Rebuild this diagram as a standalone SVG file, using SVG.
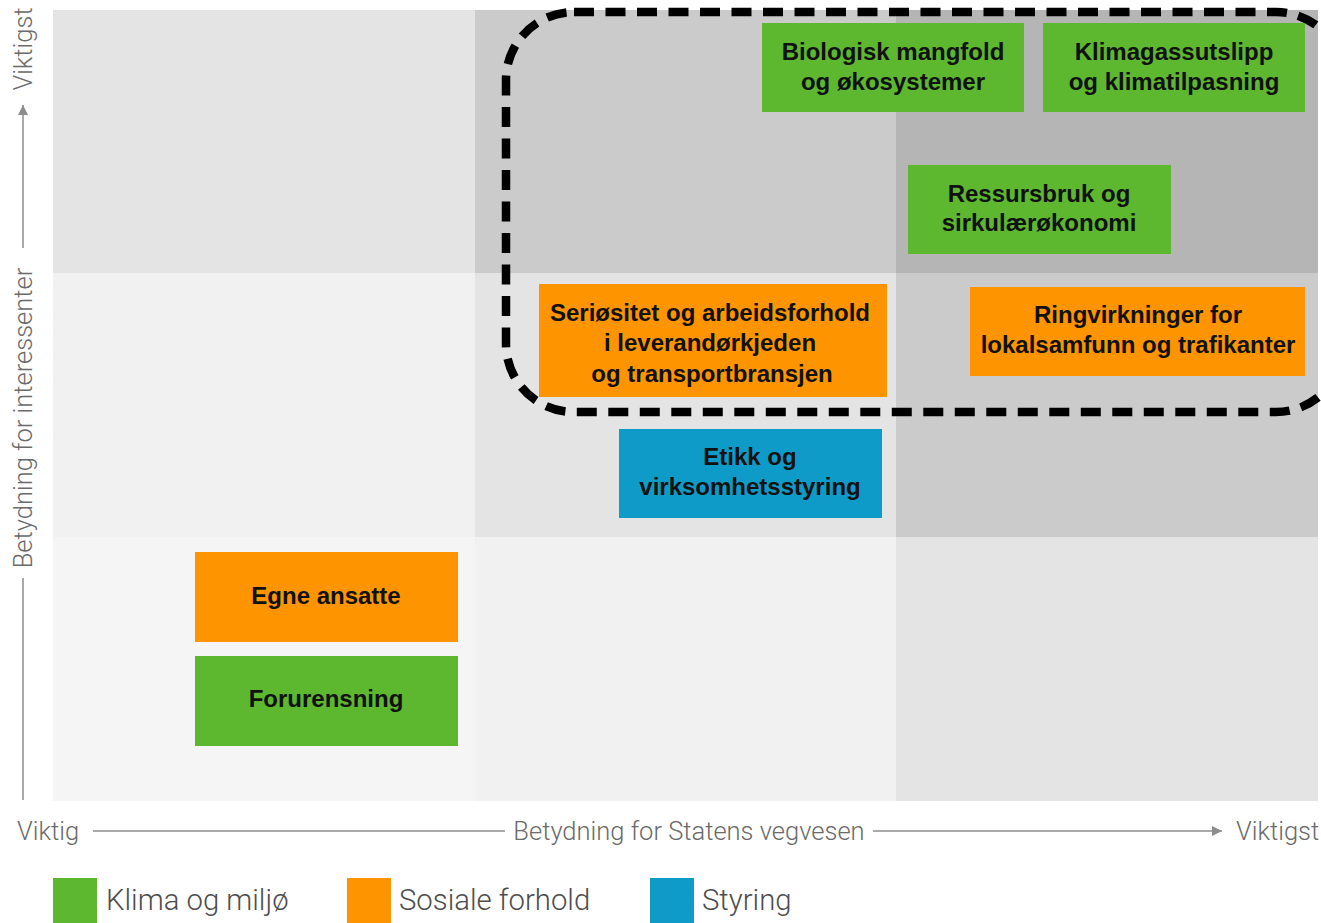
<svg xmlns="http://www.w3.org/2000/svg" width="1321" height="923" viewBox="0 0 1321 923">
<style>
.node text{font-family:"Liberation Sans",Arial,sans-serif;font-weight:bold;font-size:24px;fill:#111;text-anchor:middle}
.g{fill:#5db72f}
.o{fill:#fd9400}
.b{fill:#0e9bc8}
.ax{font-family:Roboto,"Liberation Sans",sans-serif;font-weight:300;font-size:25.5px;fill:#6a6a6a}
.lg{font-family:Roboto,"Liberation Sans",sans-serif;font-weight:300;font-size:29.3px;fill:#4d4d4d}
.axl{stroke:#8c8c8c;stroke-width:1.5;fill:none}
</style>
<defs>
<marker id="arr" viewBox="0 0 10 10" refX="10" refY="5" markerWidth="10" markerHeight="10" markerUnits="userSpaceOnUse" orient="auto">
<path d="M0,0 L10,5 L0,10 Z" fill="#8c8c8c"/>
</marker>
</defs>
<rect width="1321" height="923" fill="#ffffff"/>
<g id="grid">
<rect x="53" y="10" width="422" height="263" fill="#e4e4e4"/>
<rect x="475" y="10" width="421" height="263" fill="#cbcbcb"/>
<rect x="896" y="10" width="422" height="263" fill="#b5b5b5"/>
<rect x="53" y="273" width="422" height="264" fill="#f1f1f1"/>
<rect x="475" y="273" width="421" height="264" fill="#e4e4e4"/>
<rect x="896" y="273" width="422" height="264" fill="#cbcbcb"/>
<rect x="53" y="537" width="422" height="264" fill="#f5f5f5"/>
<rect x="475" y="537" width="421" height="264" fill="#f1f1f1"/>
<rect x="896" y="537" width="422" height="264" fill="#e4e4e4"/>
</g>
<g id="axes">
<line class="axl" x1="23" y1="800" x2="23" y2="578"/>
<line class="axl" x1="23" y1="248" x2="23" y2="105" marker-end="url(#arr)"/>
<text class="ax" transform="translate(32,418) rotate(-90)" text-anchor="middle">Betydning for interessenter</text>
<text class="ax" transform="translate(32,49) rotate(-90)" text-anchor="middle">Viktigst</text>
<line class="axl" x1="93" y1="831" x2="505" y2="831"/>
<line class="axl" x1="873" y1="831" x2="1222" y2="831" marker-end="url(#arr)"/>
<text class="ax" x="17" y="840">Viktig</text>
<text class="ax" x="689" y="840" text-anchor="middle">Betydning for Statens vegvesen</text>
<text class="ax" x="1236" y="840">Viktigst</text>
</g>
<g id="highlight">
<rect x="506" y="12" width="838" height="400" rx="68" ry="68" fill="none" stroke="#000" stroke-width="8.5" stroke-dasharray="20 11.5"/>
</g>
<g id="n-biologisk" class="node">
<rect class="g" x="762" y="23" width="262" height="89"/>
<text x="893" y="60">Biologisk mangfold</text>
<text x="893" y="90">og økosystemer</text>
</g>
<g id="n-klimagass" class="node">
<rect class="g" x="1043" y="23" width="262" height="89"/>
<text x="1174" y="60">Klimagassutslipp</text>
<text x="1174" y="90">og klimatilpasning</text>
</g>
<g id="n-ressursbruk" class="node">
<rect class="g" x="908" y="165" width="263" height="89"/>
<text x="1039" y="202">Ressursbruk og</text>
<text x="1039" y="231">sirkulærøkonomi</text>
</g>
<g id="n-seriositet" class="node">
<rect class="o" x="539" y="284" width="348" height="113"/>
<text x="710" y="321">Seriøsitet og arbeidsforhold</text>
<text x="710" y="351">i leverandørkjeden</text>
<text x="712" y="382">og transportbransjen</text>
</g>
<g id="n-ringvirkninger" class="node">
<rect class="o" x="970" y="287" width="335" height="89"/>
<text x="1138" y="323">Ringvirkninger for</text>
<text x="1138" y="353">lokalsamfunn og trafikanter</text>
</g>
<g id="n-etikk" class="node">
<rect class="b" x="619" y="429" width="263" height="89"/>
<text x="750" y="465">Etikk og</text>
<text x="750" y="495">virksomhetsstyring</text>
</g>
<g id="n-egne" class="node">
<rect class="o" x="195" y="552" width="263" height="90"/>
<text x="326" y="604">Egne ansatte</text>
</g>
<g id="n-forurensning" class="node">
<rect class="g" x="195" y="656" width="263" height="90"/>
<text x="326" y="707">Forurensning</text>
</g>
<g id="legend">
<rect class="g" x="53" y="878" width="44" height="45"/>
<text class="lg" x="106" y="910">Klima og miljø</text>
<rect class="o" x="347" y="878" width="44" height="45"/>
<text class="lg" x="399" y="910">Sosiale forhold</text>
<rect class="b" x="650" y="878" width="44" height="45"/>
<text class="lg" x="702" y="910">Styring</text>
</g>
</svg>
